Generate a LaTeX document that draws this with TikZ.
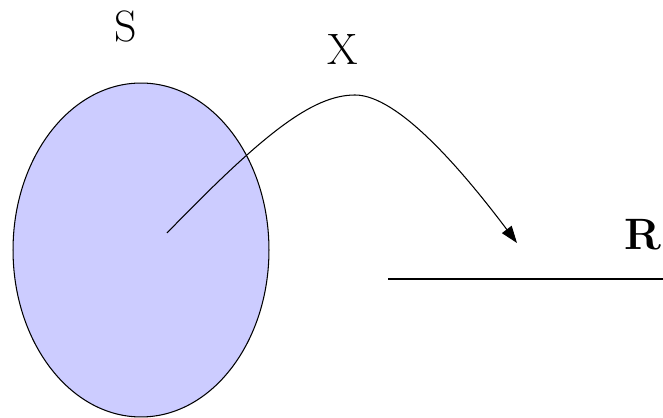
\documentclass[tikz,border=0pt]{standalone}
\usepackage{xcolor}
\usetikzlibrary{positioning, arrows.meta, shapes.geometric}
\definecolor{setblue}{RGB}{204,204,255}
\tikzset{
    % Node styles
    set/.style={ellipse, draw, line width=0.6pt, fill=setblue, inner sep=0pt},
    lbl/.style={font=\fontsize{25}{30}\selectfont, inner sep=0pt},
    % Arrow styles
    arrow/.style={-{Triangle[length=3.4mm, width=2.4mm]}, line width=0.6pt},
}

\begin{document}
\begin{tikzpicture}[x=0.02cm, y=-0.02cm]
    \useasboundingbox (0, 0) rectangle (663, 418);

    % Set S
    \node[set, minimum width=5.12cm, minimum height=6.68cm] (setS) at (141, 250) {};
    \node[lbl] (labS) at (126, 27) {S};

    % Arrow X
    \coordinate (start) at (167, 233);
    \coordinate (peak) at (355, 95);
    \coordinate (tip) at (517, 243);
    \draw[arrow] (start) .. controls (262, 135) and (312, 95) .. (peak)
        .. controls (398, 95) and (462, 170) .. (tip);
    \node[lbl] (labX) at (343, 50) {X};

    % Line R
    \coordinate (rA) at (388, 279);
    \coordinate (rB) at (663, 279);
    \draw[line width=0.6pt] (rA) -- (rB);
    \node[lbl, font=\fontsize{25}{30}\selectfont\bfseries] (labR) at (643, 235) {R};
\end{tikzpicture}
\end{document}
